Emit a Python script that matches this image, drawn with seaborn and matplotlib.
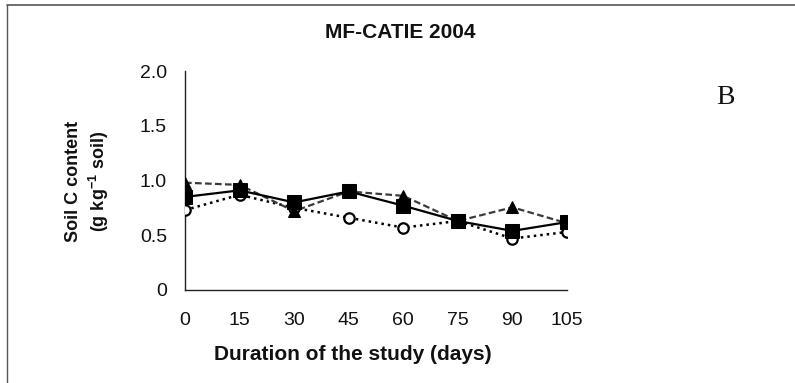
import matplotlib
matplotlib.use("Agg")
import matplotlib.pyplot as plt
from matplotlib.lines import Line2D
import seaborn as sns
import pandas as pd

# Soil C content over the incubation period, three treatments
days = [0, 15, 30, 45, 60, 75, 90, 105]
soil_c_square = [0.85, 0.91, 0.80, 0.90, 0.77, 0.63, 0.54, 0.62]
soil_c_triangle = [0.98, 0.96, 0.72, 0.90, 0.86, 0.63, 0.755, 0.61]
soil_c_circle = [0.73, 0.87, 0.75, 0.66, 0.57, 0.63, 0.47, 0.53]
y_ticks = [0, 0.5, 1.0, 1.5, 2.0]
y_tick_labels = ["0", "0.5", "1.0", "1.5", "2.0"]

sns.set_theme(style="white")
plt.rcParams["font.family"] = ["Liberation Sans", "DejaVu Sans"]
plt.rcParams["mathtext.fontset"] = "custom"
plt.rcParams["mathtext.rm"] = "Liberation Sans:bold"
plt.rcParams["mathtext.default"] = "rm"

W, H = 795, 383
fig = plt.figure(figsize=(W / 100, H / 100), dpi=100)
fig.patch.set_facecolor("white")
ax = fig.add_axes([185 / W, 1 - 290 / H, (567 - 185) / W, (290 - 71) / H])

df_circle = pd.DataFrame({"day": days, "c": soil_c_circle})
df_tri = pd.DataFrame({"day": days, "c": soil_c_triangle})
df_sq = pd.DataFrame({"day": days, "c": soil_c_square})

sns.lineplot(data=df_circle, x="day", y="c", ax=ax, color="black",
             linestyle=(0, (1, 1.6)), linewidth=1.8, marker="o",
             markersize=7.5, markerfacecolor="white", markeredgecolor="black",
             markeredgewidth=1.6, zorder=3)
sns.lineplot(data=df_tri, x="day", y="c", ax=ax, color="#3a3a3a",
             linestyle=(0, (3, 1.5)), linewidth=1.6, marker="^",
             markersize=9, markerfacecolor="black", markeredgecolor="black",
             zorder=4)
sns.lineplot(data=df_sq, x="day", y="c", ax=ax, color="black",
             linestyle="-", linewidth=1.6, marker="s",
             markersize=9.5, markerfacecolor="black", markeredgecolor="black",
             zorder=5)

ax.set_xlim(0, 105)
ax.set_ylim(0, 2.0)
ax.set_xticks(days)
ax.set_xticklabels([str(d) for d in days])
ax.set_yticks(y_ticks)
ax.set_yticklabels(y_tick_labels)
ax.set_xlabel("")
ax.set_ylabel("")

for side in ("top", "right"):
    ax.spines[side].set_visible(False)
for side in ("left", "bottom"):
    ax.spines[side].set_color("#222222")
    ax.spines[side].set_linewidth(1.0)
ax.tick_params(axis="both", direction="out", length=5, width=1.0,
               color="#222222", labelsize=14, labelcolor="#111111")
ax.tick_params(axis="x", pad=11)
ax.tick_params(axis="y", pad=8)
ax.set_facecolor("white")

fig.text(400 / W, 1 - 33 / H, "MF-CATIE 2004", ha="center", va="center",
         fontsize=15, fontweight="bold", color="#111111")
fig.text(353 / W, 1 - 354 / H, "Duration of the study (days)", ha="center",
         va="center", fontsize=15, fontweight="bold", color="#111111")
fig.text(73 / W, 1 - 181 / H, "Soil C content", rotation=90, ha="center",
         va="center", fontsize=13, fontweight="bold", color="#111111")
fig.text(99 / W, 1 - 181 / H, r"(g kg$^{-1}$ soil)", rotation=90,
         ha="center", va="center", fontsize=13, fontweight="bold",
         color="#111111")
fig.text(725 / W, 1 - 97 / H, "B", ha="center", va="center", fontsize=20,
         family="Liberation Serif", color="#111111")

# Frame lines along the top and left edges of the figure
fig.add_artist(Line2D([7 / W, 1.0], [1 - 5 / H, 1 - 5 / H],
                      transform=fig.transFigure, color="#555555", lw=1.2))
fig.add_artist(Line2D([7 / W, 7 / W], [0.0, 1 - 5 / H],
                      transform=fig.transFigure, color="#555555", lw=1.0))

fig.savefig("out.png", dpi=100, facecolor="white")
